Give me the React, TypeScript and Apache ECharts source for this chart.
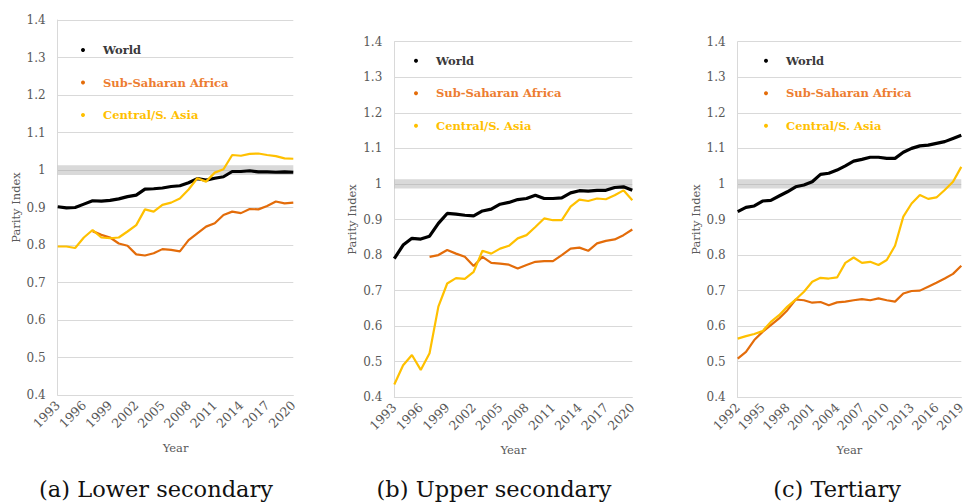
import React, { useEffect, useRef } from "react";
import * as echarts from "echarts";

// ---------- data ----------
const yearsA = ["1993","1994","1995","1996","1997","1998","1999","2000","2001","2002","2003","2004","2005","2006","2007","2008","2009","2010","2011","2012","2013","2014","2015","2016","2017","2018","2019","2020"];
const yearsB = yearsA;
const yearsC = ["1992","1993","1994","1995","1996","1997","1998","1999","2000","2001","2002","2003","2004","2005","2006","2007","2008","2009","2010","2011","2012","2013","2014","2015","2016","2017","2018","2019"];

// (a) Lower secondary
const worldA = [0.902,0.899,0.900,0.909,0.918,0.917,0.919,0.923,0.929,0.933,0.949,0.950,0.952,0.956,0.958,0.966,0.977,0.973,0.978,0.982,0.996,0.996,0.998,0.995,0.995,0.994,0.995,0.994];
const ssaA = [null,null,null,null,0.837,0.827,0.820,0.804,0.798,0.775,0.772,0.778,0.789,0.787,0.783,0.813,0.831,0.849,0.858,0.880,0.889,0.885,0.896,0.895,0.904,0.916,0.911,0.913];
const csaA = [0.796,0.796,0.792,0.820,0.840,0.820,0.818,0.820,0.836,0.853,0.895,0.889,0.907,0.913,0.924,0.948,0.978,0.969,0.993,1.002,1.040,1.038,1.043,1.044,1.040,1.037,1.031,1.030];

// (b) Upper secondary
const worldB = [0.790,0.828,0.847,0.845,0.853,0.889,0.917,0.915,0.912,0.910,0.924,0.929,0.943,0.948,0.956,0.959,0.968,0.959,0.959,0.961,0.975,0.981,0.980,0.982,0.982,0.990,0.992,0.982];
const ssaB = [null,null,null,null,0.795,0.800,0.814,0.804,0.795,0.769,0.795,0.778,0.776,0.773,0.762,0.772,0.781,0.783,0.783,0.800,0.818,0.821,0.812,0.833,0.840,0.844,0.856,0.872];
const csaB = [0.436,0.490,0.519,0.477,0.524,0.655,0.720,0.735,0.733,0.753,0.812,0.804,0.818,0.826,0.847,0.856,0.879,0.903,0.898,0.898,0.936,0.956,0.952,0.959,0.957,0.968,0.982,0.954];

// (c) Tertiary
const worldC = [0.922,0.934,0.938,0.952,0.954,0.966,0.978,0.992,0.997,1.006,1.027,1.030,1.039,1.051,1.064,1.069,1.075,1.075,1.072,1.072,1.089,1.100,1.107,1.109,1.114,1.119,1.128,1.137];
const ssaC = [0.509,0.528,0.561,0.584,0.603,0.622,0.645,0.675,0.673,0.666,0.668,0.659,0.667,0.669,0.673,0.676,0.673,0.678,0.673,0.669,0.692,0.699,0.700,0.711,0.722,0.734,0.747,0.770];
const csaC = [0.565,0.572,0.578,0.586,0.612,0.631,0.655,0.675,0.697,0.725,0.736,0.734,0.737,0.778,0.793,0.778,0.781,0.772,0.786,0.826,0.908,0.945,0.969,0.958,0.962,0.983,1.006,1.048];

const seriesNames = ["World", "Sub-Saharan Africa", "Central/S. Asia"];
const captions = ["(a) Lower secondary", "(b) Upper secondary", "(c) Tertiary"];
const parityBand = [0.987, 1.013];

// ---------- styles ----------
const LINE_COLORS = ["#000000", "#E36C0A", "#FFC000"];
const LEGEND_TEXT_COLORS = ["#3a3a3a", "#ED7D31", "#FFC000"];
const LINE_WIDTHS = [3.2, 2.2, 2.2];
const SERIF = "DejaVu Serif";
const AXIS_TEXT = "#595959";
const GRID_LINE = "#d9d9d9";

const grids = [
  { left: 57.7, top: 20, width: 235.6, height: 375 },
  { left: 394.3, top: 41.7, width: 238, height: 355.6 },
  { left: 737.7, top: 41.7, width: 231.4, height: 355.6 },
];
const legendPos = [
  { left: 81, top: 42 },
  { left: 414, top: 52.7 },
  { left: 764, top: 52.7 },
];
const captionPos = [
  { x: 156, y: 489 },
  { x: 494, y: 489 },
  { x: 837, y: 489 },
];

export default function App() {
  const ref = useRef<HTMLDivElement>(null);

  useEffect(() => {
    if (!ref.current) return;
    const chart = echarts.init(ref.current, null, { renderer: "svg" });

    const cats = [yearsA, yearsB, yearsC];
    const panels = [
      [worldA, ssaA, csaA],
      [worldB, ssaB, csaB],
      [worldC, ssaC, csaC],
    ];

    const xAxis = cats.map((c, i) => ({
      type: "category",
      gridIndex: i,
      data: c,
      boundaryGap: false,
      axisTick: { show: false },
      axisLine: { show: true, lineStyle: { color: GRID_LINE, width: 1 } },
      axisLabel: {
        interval: 2,
        rotate: 45,
        margin: 8,
        color: AXIS_TEXT,
        fontFamily: SERIF,
        fontSize: 12.5,
      },
      name: "Year",
      nameLocation: "middle",
      nameGap: 47,
      nameTextStyle: { color: AXIS_TEXT, fontFamily: SERIF, fontSize: 11.5 },
    }));

    const yAxis = grids.map((_, i) => ({
      type: "value",
      gridIndex: i,
      min: 0.4,
      max: 1.4,
      interval: 0.1,
      axisLine: { show: true, lineStyle: { color: GRID_LINE, width: 1 } },
      axisTick: { show: false },
      splitLine: { show: true, lineStyle: { color: GRID_LINE, width: 1 } },
      axisLabel: {
        margin: 12,
        color: AXIS_TEXT,
        fontFamily: SERIF,
        fontSize: 12,
        formatter: (v: number) => String(Math.round(v * 10) / 10),
      },
      name: "Parity Index",
      nameLocation: "middle",
      nameRotate: 90,
      nameGap: 36,
      nameTextStyle: { color: AXIS_TEXT, fontFamily: SERIF, fontSize: 11.5 },
    }));

    const series: any[] = [];
    panels.forEach((p, gi) => {
      p.forEach((d, si) => {
        series.push({
          type: "line",
          name: seriesNames[si],
          xAxisIndex: gi,
          yAxisIndex: gi,
          data: d,
          showSymbol: false,
          symbol: "circle",
          connectNulls: false,
          z: 2,
          lineStyle: { color: LINE_COLORS[si], width: LINE_WIDTHS[si] },
          itemStyle: { color: LINE_COLORS[si] },
        });
      });
      series.push({
        type: "line",
        name: "band" + gi,
        xAxisIndex: gi,
        yAxisIndex: gi,
        data: [],
        z: 5,
        silent: true,
        markArea: {
          silent: true,
          itemStyle: { color: "rgba(165,165,165,0.42)" },
          data: [[{ yAxis: parityBand[0] }, { yAxis: parityBand[1] }]],
        },
      });
    });

    const legend = legendPos.map((lp) => ({
      orient: "vertical",
      left: lp.left,
      top: lp.top,
      padding: 0,
      icon: "circle",
      itemWidth: 30,
      itemHeight: 4,
      itemGap: 16.5,
      selectedMode: false,
      textStyle: {
        fontFamily: SERIF,
        fontWeight: "bold",
        fontSize: 11.5,
        lineHeight: 16,
      },
      data: seriesNames.map((n, i) => ({
        name: n,
        textStyle: { color: LEGEND_TEXT_COLORS[i], fontFamily: SERIF },
      })),
    }));

    const graphic = captions.map((t, i) => ({
      type: "text",
      x: captionPos[i].x,
      y: captionPos[i].y,
      style: {
        text: t,
        fill: "#111",
        fontFamily: SERIF,
        fontSize: 22.5,
        textAlign: "center",
        textVerticalAlign: "middle",
      },
    }));

    chart.setOption({
      animation: false,
      backgroundColor: "#ffffff",
      textStyle: { fontFamily: SERIF },
      grid: grids.map((g) => ({ ...g, containLabel: false })),
      xAxis,
      yAxis,
      legend,
      series,
      graphic,
    });

    return () => chart.dispose();
  }, []);

  return (
    <div
      ref={ref}
      style={{ position: "absolute", left: 0, top: 0, width: 968, height: 503 }}
    />
  );
}
